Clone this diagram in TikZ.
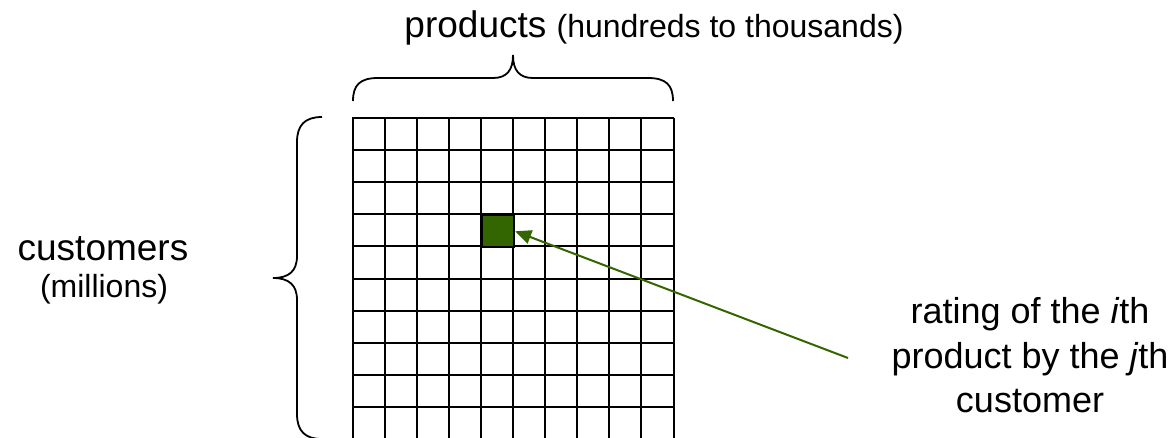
\documentclass[tikz,border=0pt]{standalone}
\usepackage{fontspec}
\setmainfont{Liberation Sans}
\usetikzlibrary{arrows.meta}
\definecolor{leaf}{HTML}{336600}
\tikzset{
  gridline/.style={line width=2pt, black},
  bracepath/.style={line width=1.8pt, black},
  bigtext/.style={font=\fontsize{37}{44}\selectfont, inner sep=0pt},
  midtext/.style={font=\fontsize{36}{45}\selectfont, inner sep=0pt},
  smalltext/.style={font=\fontsize{32}{38}\selectfont, inner sep=0pt},
  cellbox/.style={draw=black, fill=leaf, line width=2pt, minimum size=32pt, inner sep=0pt},
  pointer/.style={draw=leaf, line width=2pt, -{Triangle[length=16pt,width=14pt]}, fill=leaf}
}
\begin{document}
\begin{tikzpicture}[x=1pt,y=-1pt]
\useasboundingbox (0,0) rectangle (1172,437);
\begin{scope}
\clip (0,0) rectangle (1172,437);
\foreach \i in {0,...,10} {
  \draw[gridline] ({353+32.05*\i},118) -- ({353+32.05*\i},440);
  \draw[gridline] (352,{118+32.1*\i}) -- (674,{118+32.1*\i});
}
\end{scope}
\node[cellbox, anchor=north west] (cell) at (481.2,214.3) {};

% top brace
\draw[bracepath] (353,101) .. controls (353,85) and (360,78) .. (378,78) -- (493,78)
  .. controls (507,78) and (513,70) .. (513,55)
  .. controls (513,70) and (519,78) .. (533,78) -- (648,78)
  .. controls (666,78) and (673,85) .. (673,101);
% left brace
\draw[bracepath] (322,117) .. controls (305,117) and (297,125) .. (297,142) -- (297,256)
  .. controls (297,271) and (289,278) .. (273,278)
  .. controls (289,278) and (297,285) .. (297,300) -- (297,414)
  .. controls (297,431) and (305,439) .. (322,439);

\node[anchor=base] (prod) at (654,37) {\fontsize{37}{44}\selectfont products \fontsize{32}{38}\selectfont(hundreds to thousands)};
\node[bigtext, anchor=base] (cust) at (103,260) {customers};
\node[smalltext, anchor=base] (mill) at (104,297) {(millions)};

\node[midtext, anchor=base] (r1) at (1030,323) {rating of the \textit{i}th};
\node[midtext, anchor=base] (r2) at (1030,368) {product by the \textit{j}th};
\node[midtext, anchor=base] (r3) at (1030,412) {customer};

\coordinate (astart) at (848,358);
\draw[pointer] (astart) -- (cell.east);
\end{tikzpicture}
\end{document}
